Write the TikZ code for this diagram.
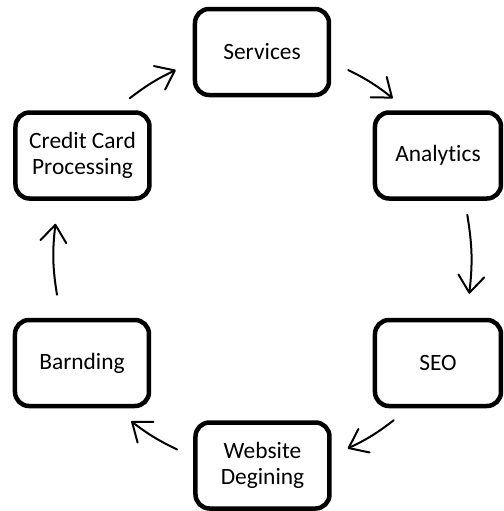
\documentclass[tikz,border=0pt]{standalone}
\usepackage{fontspec}
\setmainfont{Carlito}[Ligatures=NoCommon]
\usetikzlibrary{arrows.meta}
\tikzstyle{stage} = [rectangle,
rounded corners=7pt,
line width=2.25pt,
draw=black,
minimum width=67pt,
minimum height=43pt, align=center,
font=\fontsize{11.7pt}{13pt}\selectfont]
\tikzstyle{link} = [->, line width=1pt, line cap=round]

\begin{document}
\begin{tikzpicture}[x=0.5pt, y=-0.5pt, >={Straight Barb[length=8.5pt, width=13pt, round]}]
    \useasboundingbox (0,0) rectangle (504,511);

    \node[stage]                     (services)  at (262,52)    {Services};
    \node[stage, minimum width=63pt] (analytics) at (438,155.5) {Analytics};
    \node[stage, minimum width=63pt] (seo)       at (438,363)   {SEO};
    \node[stage]                     (website)   at (262.5,465.5) {Website\\Degining};
    \node[stage]                     (branding)  at (82,363)    {Barnding};
    \node[stage]                     (credit)    at (82.5,155.5) {Credit Card\\Processing};

    \draw [link] ([shift={(-22,-12)}]credit.north east) to[bend left=6] ([shift={(-17,18)}]services.west);
    \draw [link] ([shift={(17,18)}]services.east) to[bend left=6] ([shift={(20,-12)}]analytics.north west);
    \draw [link] ([shift={(-36,14)}]analytics.south east) to[bend left=8] ([shift={(-34,-24)}]seo.north east);
    \draw [link] ([shift={(21,12)}]seo.south west) to[bend left=6] ([shift={(16,-17)}]website.east);
    \draw [link] ([shift={(-16,-16)}]website.west) to[bend left=6] ([shift={(-20,13)}]branding.south east);
    \draw [link] ([shift={(-25,-23)}]branding.north) to[bend left=8] ([shift={(-27,23)}]credit.south);
  \end{tikzpicture}
\end{document}
